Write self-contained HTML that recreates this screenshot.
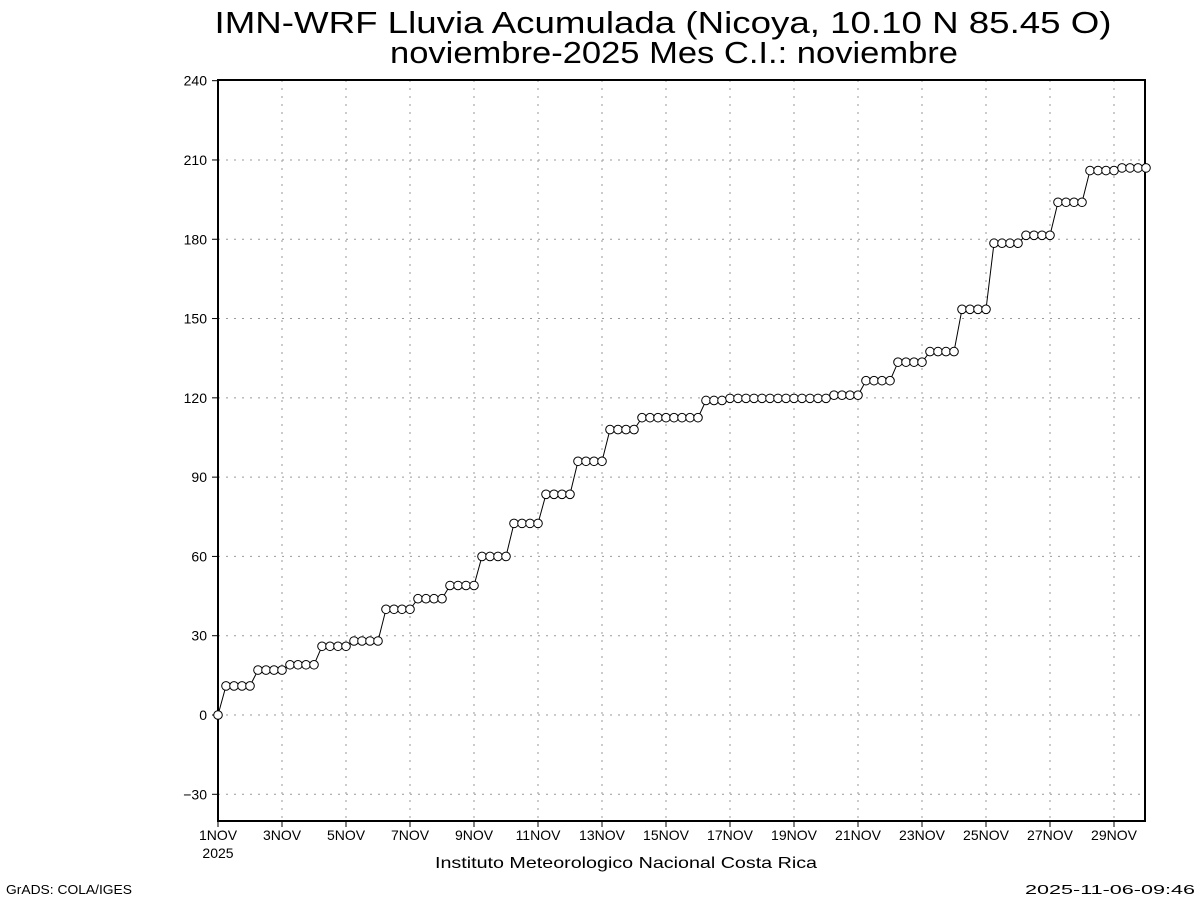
<!DOCTYPE html>
<html><head><meta charset="utf-8"><style>
html,body{margin:0;padding:0;background:#fff;}
svg{display:block;font-family:"Liberation Sans",sans-serif;}
</style></head><body>
<svg id="s" width="1200" height="900" xmlns="http://www.w3.org/2000/svg">
<rect width="1200" height="900" fill="#fff"/>
<text x="663" y="33" font-size="31" text-anchor="middle" textLength="897" lengthAdjust="spacingAndGlyphs">IMN-WRF  Lluvia Acumulada (Nicoya, 10.10  N 85.45  O)</text>
<text x="674" y="63" font-size="31" text-anchor="middle" textLength="568" lengthAdjust="spacingAndGlyphs">noviembre-2025 Mes C.I.: noviembre</text>
<g id="grid" stroke="#999" stroke-width="1" stroke-dasharray="2,6"></g>
<rect x="218" y="80" width="927" height="741" fill="none" stroke="#000" stroke-width="2"/>
<g id="yl" font-size="14" text-anchor="end"></g>
<g id="xl" font-size="14" text-anchor="middle"></g>
<text x="218" y="858" font-size="14" text-anchor="middle">2025</text>
<text x="626" y="868" font-size="16" text-anchor="middle" textLength="382" lengthAdjust="spacingAndGlyphs">Instituto Meteorologico Nacional Costa Rica</text>
<text x="6" y="894" font-size="13" textLength="126" lengthAdjust="spacingAndGlyphs">GrADS: COLA/IGES</text>
<text x="1195" y="894" font-size="13" text-anchor="end" textLength="170" lengthAdjust="spacingAndGlyphs">2025-11-06-09:46</text>
<g id="d"></g>
</svg>
<script>
var NS="http://www.w3.org/2000/svg";
function el(p,t,a,txt){var e=document.createElementNS(NS,t);for(var k in a)e.setAttribute(k,a[k]);if(txt!==undefined)e.textContent=txt;document.getElementById(p).appendChild(e);return e;}
function Y(v){return 715-v*2.643;}
for(var v=-30;v<=240;v+=30){var y=Y(v);
 if(v<240)el("grid","line",{x1:218,x2:1145,y1:y,y2:y});
 el("yl","text",{x:207,y:y+5},v<0?"\u221230":String(v));
 el("yl","line",{x1:212,x2:218,y1:y,y2:y,stroke:"#000"});}
for(var d=1;d<=29;d+=2){var x=218+(d-1)*32;
 if(d>1)el("grid","line",{x1:x,x2:x,y1:80,y2:821});
 el("xl","text",{x:x,y:840},d+"NOV");
 el("xl","line",{x1:x,x2:x,y1:821,y2:827,stroke:"#000"});}
var vals=[0];
function rep(v,n){for(var i=0;i<n;i++)vals.push(v);}
rep(11,4);rep(17,4);rep(19,4);rep(26,4);rep(28,4);rep(40,4);rep(44,4);rep(49,4);rep(60,4);rep(72.5,4);rep(83.5,4);rep(96,4);rep(108,4);rep(112.5,8);rep(119,3);rep(119.8,13);rep(121,4);rep(126.5,4);rep(133.5,4);rep(137.5,4);rep(153.5,4);rep(178.5,4);rep(181.5,4);rep(194,4);rep(206,4);rep(207,4);
var pts=vals.map(function(v,i){return (218+8*i)+","+Y(v).toFixed(1);}).join(" ");
el("d","polyline",{points:pts,fill:"none",stroke:"#000","stroke-width":1});
vals.forEach(function(v,i){el("d","circle",{cx:218+8*i,cy:Y(v),r:4.3,fill:"#fff",stroke:"#000","stroke-width":1});});
</script>
</body></html>
